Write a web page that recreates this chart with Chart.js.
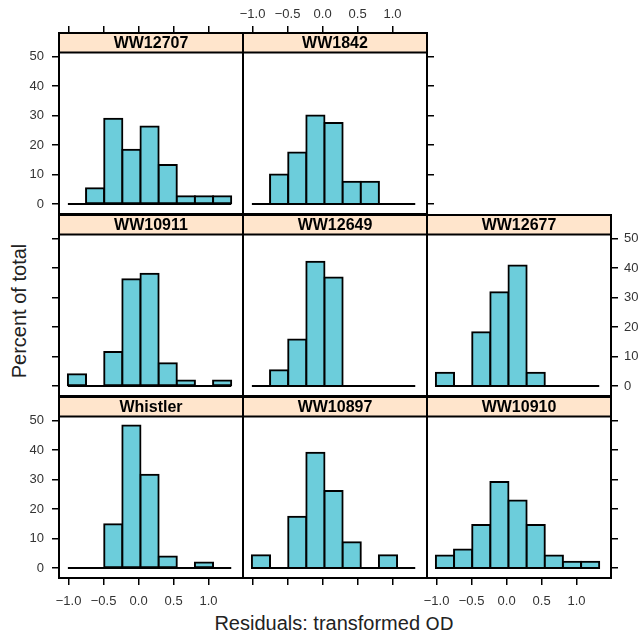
<!DOCTYPE html>
<html>
<head>
<meta charset="utf-8">
<title>Residual histograms</title>
<script src="https://cdn.jsdelivr.net/npm/chart.js@4.4.1/dist/chart.umd.min.js"></script>
<style>
  html, body { margin: 0; padding: 0; background: #fff; }
  #wrap {
    position: relative; width: 638px; height: 635px; overflow: hidden;
    font-family: "Liberation Sans", Arial, Helvetica, sans-serif; color: #222;
  }
  #wrap canvas { position: absolute; }
  #ytitle {
    position: absolute; left: 19px; top: 311px; font-size: 20px; white-space: nowrap;
    transform: translate(-50%, -50%) rotate(-90deg);
  }
  #xtitle {
    position: absolute; left: 334px; top: 623px; font-size: 20px; white-space: nowrap;
    transform: translate(-50%, -50%);
  }
  #xtitle .od { font-family: "DejaVu Sans", sans-serif; font-size: 18px; }
</style>
</head>
<body>
<div id="wrap">
  <div id="ytitle">Percent of total</div>
  <div id="xtitle">Residuals: transformed <span class="od">OD</span></div>
</div>
<script>
"use strict";

// histogram breaks on the residual scale (same for every panel)
const binEdges = [-1.01, -0.751, -0.491, -0.232, 0.027, 0.287, 0.546, 0.805, 1.064, 1.324];
const xTicks = [-1.0, -0.5, 0.0, 0.5, 1.0];
const yTicks = [0, 10, 20, 30, 40, 50];

const panelNames = ["WW12707", "WW1842", "WW10911", "WW12649", "WW12677", "Whistler", "WW10897", "WW10910"];

// percent of total in each bin
const ww12707  = [0, 5.3, 28.9, 18.4, 26.3, 13.2, 2.6, 2.6, 2.6];
const ww1842   = [0, 10.0, 17.5, 30.0, 27.5, 7.5, 7.5, 0, 0];
const ww10911  = [4.0, 0, 11.5, 36.2, 38.1, 7.7, 1.9, 0, 1.9];
const ww12649  = [0, 5.3, 15.8, 42.1, 36.8, 0, 0, 0, 0];
const ww12677  = [4.5, 0, 18.2, 31.8, 40.9, 4.5, 0, 0, 0];
const whistler = [0, 0, 14.8, 48.3, 31.6, 3.9, 0, 1.9, 0];
const ww10897  = [4.35, 0, 17.4, 39.1, 26.1, 8.7, 0, 4.35, 0];
const ww10910  = [4.2, 6.25, 14.6, 29.2, 22.9, 14.6, 4.2, 2.1, 2.1];

const panelValues = [ww12707, ww1842, ww10911, ww12649, ww12677, whistler, ww10897, ww10910];

// layout of the lattice: row/col, and which sides get ticks (t) or ticks+labels (l)
const panelLayout = [
  { row: 0, col: 0, left: "l", top: "t" },
  { row: 0, col: 1, top: "l", right: "t" },
  { row: 1, col: 0, left: "t" },
  { row: 1, col: 1 },
  { row: 1, col: 2, right: "l" },
  { row: 2, col: 0, left: "l", bottom: "l" },
  { row: 2, col: 1, bottom: "t" },
  { row: 2, col: 2, bottom: "l", right: "t" }
];

const FONT = "'Liberation Sans', Arial, Helvetica, sans-serif";
const BAR_FILL = "#6ccddb";
const STRIP_FILL = "#ffe5cc";
const colX = [59, 243, 427];
const rowY = [33, 215, 397];
const PW = 184, PH = 181, STRIP_H = 19.5, M = 45;
const X_MIN = -1.137, X_MAX = 1.492;
const Y_MIN = -3.4, Y_MAX = 58.0;

const centers = binEdges.slice(0, -1).map((e, i) => (e + binEdges[i + 1]) / 2);

const fmtX = v => (v < 0 ? "\u2212" : "") + Math.abs(v).toFixed(1);

// strip on top of the panel + panel frame
const panelFrame = {
  id: "panelFrame",
  afterDraw(chart, args, opts) {
    const { ctx, chartArea: a } = chart;
    ctx.save();
    ctx.fillStyle = STRIP_FILL;
    ctx.fillRect(a.left, a.top, a.right - a.left, STRIP_H);
    ctx.strokeStyle = "#000";
    ctx.lineWidth = 2;
    ctx.beginPath();
    ctx.moveTo(a.left, a.top + STRIP_H);
    ctx.lineTo(a.right, a.top + STRIP_H);
    ctx.stroke();
    ctx.strokeRect(a.left, a.top, a.right - a.left, a.bottom - a.top);
    ctx.fillStyle = "#000";
    ctx.font = "bold 16px " + FONT;
    ctx.textAlign = "center";
    ctx.textBaseline = "middle";
    ctx.fillText(opts.label, (a.left + a.right) / 2, a.top + STRIP_H / 2 + 1);
    ctx.restore();
  }
};

function fixSize(prop) {
  return s => {
    s[prop] = M;
    s.paddingLeft = s.paddingRight = s.paddingTop = s.paddingBottom = 0;
  };
}

function xAxis(pos, mode) {
  return {
    type: "linear", position: pos, min: X_MIN, max: X_MAX, offset: false,
    afterBuildTicks: s => { s.ticks = xTicks.map(v => ({ value: v })); },
    afterFit: fixSize("height"),
    border: { display: false },
    grid: { display: !!mode, offset: false, drawOnChartArea: false, drawTicks: true, tickLength: 7, color: "#000", lineWidth: 1.5 },
    ticks: {
      display: mode === "l", padding: pos === "bottom" ? 9 : 4,
      color: "#333", font: { size: 13, family: FONT },
      maxRotation: 0, autoSkip: false, callback: v => fmtX(v)
    }
  };
}

function yAxis(pos, mode) {
  return {
    type: "linear", position: pos, min: Y_MIN, max: Y_MAX,
    afterBuildTicks: s => { s.ticks = yTicks.map(v => ({ value: v })); },
    afterFit: fixSize("width"),
    border: { display: false },
    grid: { display: !!mode, drawOnChartArea: false, drawTicks: true, tickLength: 7, color: "#000", lineWidth: 1.5 },
    ticks: {
      display: mode === "l", padding: pos === "left" ? 8 : 6,
      color: "#333", font: { size: 13, family: FONT }, autoSkip: false
    }
  };
}

const wrap = document.getElementById("wrap");

panelLayout.forEach((p, k) => {
  const cv = document.createElement("canvas");
  cv.width = PW + 2 * M;
  cv.height = PH + 2 * M;
  cv.style.left = (colX[p.col] - M) + "px";
  cv.style.top = (rowY[p.row] - M) + "px";
  wrap.appendChild(cv);

  const vals = panelValues[k];
  new Chart(cv, {
    type: "bar",
    data: {
      datasets: [
        {
          type: "line",
          data: [{ x: binEdges[0], y: 0 }, { x: binEdges[binEdges.length - 1], y: 0 }],
          borderColor: "#000", borderWidth: 2, pointRadius: 0,
          xAxisID: "x", yAxisID: "y", order: 0
        },
        {
          type: "bar",
          data: centers.map((c, i) => ({ x: c, y: vals[i] })),
          backgroundColor: BAR_FILL, borderColor: "#000", borderWidth: 2,
          borderSkipped: false, inflateAmount: 1,
          barPercentage: 1, categoryPercentage: 1,
          xAxisID: "x", yAxisID: "y", order: 1
        }
      ]
    },
    options: {
      responsive: false,
      animation: false,
      devicePixelRatio: 1,
      events: [],
      layout: { padding: 0 },
      scales: {
        x: xAxis("bottom", p.bottom),
        x2: xAxis("top", p.top),
        y: yAxis("left", p.left),
        y2: yAxis("right", p.right)
      },
      plugins: {
        legend: { display: false },
        tooltip: { enabled: false },
        title: { display: false },
        panelFrame: { label: panelNames[k] }
      }
    },
    plugins: [panelFrame]
  });
});
</script>
</body>
</html>
